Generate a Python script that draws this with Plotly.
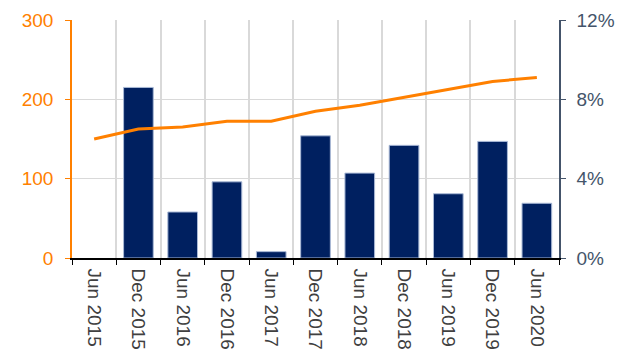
import plotly.graph_objects as go

periods = ["Jun 2015", "Dec 2015", "Jun 2016", "Dec 2016", "Jun 2017", "Dec 2017",
           "Jun 2018", "Dec 2018", "Jun 2019", "Dec 2019", "Jun 2020"]
bar_values = [0, 215, 58, 96, 8, 154, 107, 142, 81, 147, 69]
rate_values = [0.060, 0.065, 0.066, 0.069, 0.069, 0.074, 0.077, 0.081, 0.085, 0.089, 0.091]

ORANGE = "#FF8000"
NAVY = "#002060"
SLATE = "#44546A"
GRID = "#D9D9D9"
FONT = "Liberation Sans"
FSIZE = 19

# no outline on empty bars so a zero value leaves nothing visible
outline_widths = [1 if v > 0 else 0 for v in bar_values]

fig = go.Figure()
fig.add_trace(go.Bar(
    x=periods, y=bar_values,
    marker=dict(color=NAVY, line=dict(color="#A9B9D6", width=outline_widths)),
    yaxis="y", showlegend=False,
))
fig.add_trace(go.Scatter(
    x=periods, y=rate_values, mode="lines", line=dict(color=ORANGE, width=3),
    yaxis="y2", showlegend=False,
))

fig.update_layout(
    width=626, height=351,
    margin=dict(l=72, r=67, t=20, b=93),
    paper_bgcolor="white", plot_bgcolor="white",
    bargap=0.33,
    font=dict(family=FONT, size=FSIZE),
    xaxis=dict(
        type="category", tickson="boundaries", tickangle=90, automargin=False,
        showgrid=True, gridcolor=GRID, gridwidth=1.5,
        showline=True, linecolor="#000000", linewidth=1.5,
        ticks="outside", ticklen=5, tickcolor="#000000",
        ticklabelstandoff=5,
        tickfont=dict(color="#404040", size=FSIZE, family=FONT),
    ),
    yaxis=dict(
        range=[0, 300], tickvals=[0, 100, 200, 300], automargin=False,
        showgrid=True, gridcolor=GRID, gridwidth=1, zeroline=False,
        showline=True, linecolor=ORANGE, linewidth=1.5,
        ticks="outside", ticklen=5, tickcolor=ORANGE,
        ticklabelstandoff=8,
        tickfont=dict(color=ORANGE, size=FSIZE, family=FONT),
    ),
    yaxis2=dict(
        range=[0, 0.12], tickvals=[0, 0.04, 0.08, 0.12], tickformat=".0%",
        overlaying="y", side="right", showgrid=False, zeroline=False, automargin=False,
        showline=True, linecolor=SLATE, linewidth=1.5,
        ticks="outside", ticklen=5, tickcolor=SLATE,
        ticklabelstandoff=7,
        tickfont=dict(color=SLATE, size=FSIZE, family=FONT),
    ),
)

fig.write_html("out.html")
